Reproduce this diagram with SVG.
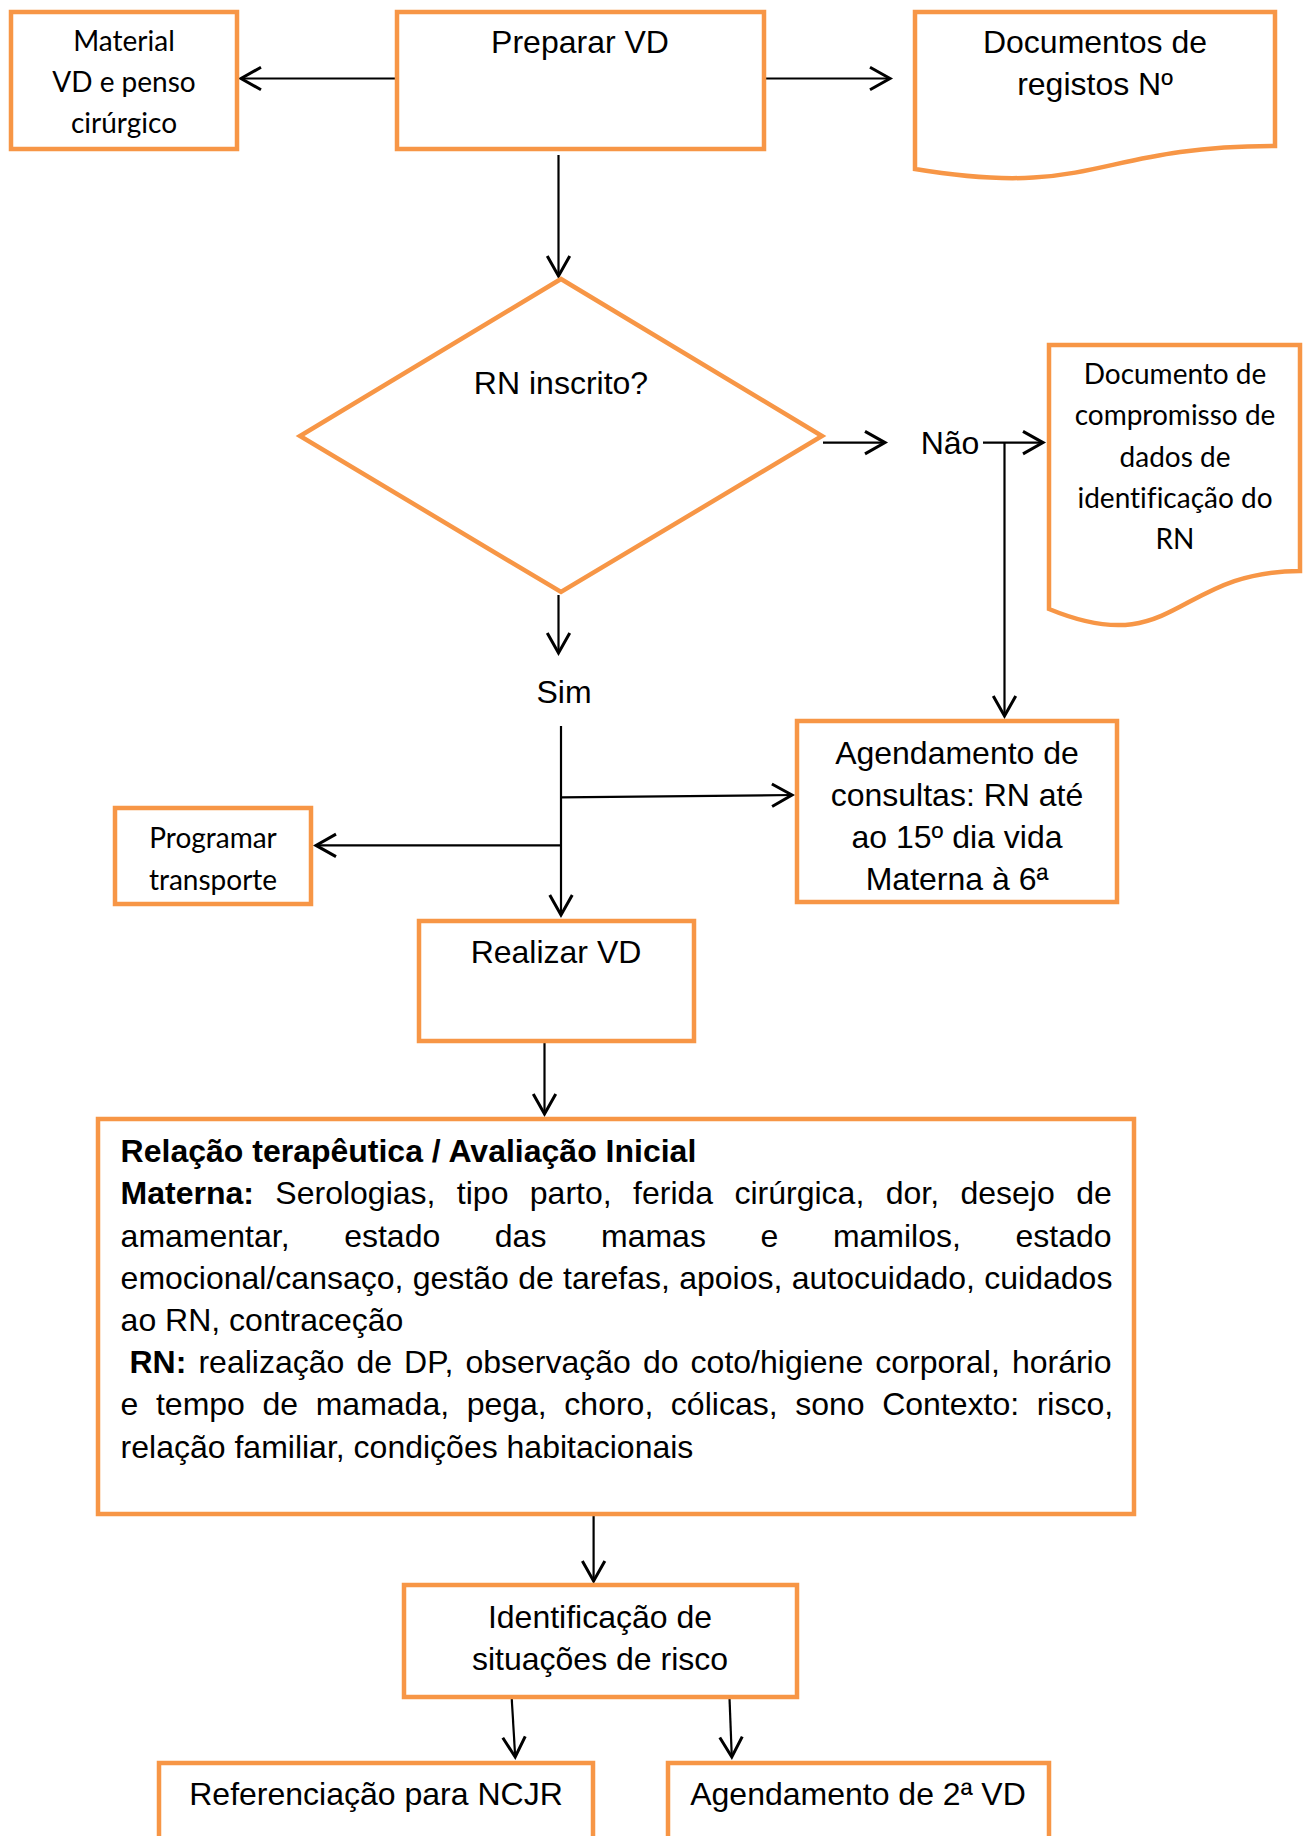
<svg xmlns="http://www.w3.org/2000/svg" width="1309" height="1836" viewBox="0 0 1309 1836">
<style>
.box{fill:#fff;stroke:#F79646;stroke-width:4.5}
.ln{fill:none;stroke:#000;stroke-width:2.2}
.a{font-family:"Liberation Sans",Arial,sans-serif;font-size:32px;fill:#000}
.c{font-family:Lato,"Noto Sans",sans-serif;font-size:28px;fill:#000;font-variant-ligatures:none}
.m{text-anchor:middle}
.b{font-weight:bold}
</style>
<defs>
<marker id="ar" markerUnits="userSpaceOnUse" markerWidth="30" markerHeight="30" viewBox="-20 -12 24 24" refX="0" refY="0" orient="auto">
<path d="M-16,-9 L0,0 L-16,9" fill="none" stroke="#000" stroke-width="2.4"/>
</marker>
</defs>
<rect width="1309" height="1836" fill="#fff"/>
<g id="connectors">
<line class="ln" x1="396" y1="78.5" x2="241" y2="78.5" marker-end="url(#ar)"/>
<line class="ln" x1="766" y1="78.5" x2="890" y2="78.5" marker-end="url(#ar)"/>
<line class="ln" x1="558.5" y1="155" x2="558.5" y2="276" marker-end="url(#ar)"/>
<line class="ln" x1="823" y1="442.6" x2="885" y2="442.6" marker-end="url(#ar)"/>
<line class="ln" x1="983" y1="442.6" x2="1043" y2="442.6" marker-end="url(#ar)"/>
<line class="ln" x1="1004.5" y1="442.6" x2="1004.5" y2="716" marker-end="url(#ar)"/>
<line class="ln" x1="558.5" y1="595" x2="558.5" y2="653" marker-end="url(#ar)"/>
<line class="ln" x1="561" y1="726" x2="561" y2="915" marker-end="url(#ar)"/>
<line class="ln" x1="561" y1="797.4" x2="792" y2="795" marker-end="url(#ar)"/>
<line class="ln" x1="561" y1="845.4" x2="316" y2="845.4" marker-end="url(#ar)"/>
<line class="ln" x1="544.5" y1="1043" x2="544.5" y2="1114" marker-end="url(#ar)"/>
<line class="ln" x1="593.6" y1="1516" x2="593.6" y2="1581" marker-end="url(#ar)"/>
<line class="ln" x1="511.7" y1="1698" x2="515.2" y2="1757" marker-end="url(#ar)"/>
<line class="ln" x1="729.5" y1="1698" x2="731.8" y2="1757" marker-end="url(#ar)"/>
</g>
<g id="material">
<rect class="box" x="11" y="12" width="226" height="137"/>
<text class="c m" x="124" y="51">Material</text>
<text class="c m" x="124" y="92">VD e penso</text>
<text class="c m" x="124" y="133">cirúrgico</text>
</g>
<g id="preparar">
<rect class="box" x="397" y="12" width="367" height="137"/>
<text class="a m" x="580" y="53">Preparar VD</text>
</g>
<g id="documentos">
<path class="box" d="M915,12 H1275 V146 C1095,146 1095,199 915,169 Z"/>
<text class="a m" x="1095" y="53">Documentos de</text>
<text class="a m" x="1095" y="95">registos Nº</text>
</g>
<g id="decisao">
<polygon class="box" points="561,279 822,436 561,592 300,436"/>
<text class="a m" x="561" y="394">RN inscrito?</text>
</g>
<g id="nao">
<text class="a m" x="950" y="454">Não</text>
</g>
<g id="compromisso">
<path class="box" d="M1049,345 H1300 V571 C1175,571 1175,661 1049,609 Z"/>
<text class="c m" x="1175" y="384">Documento de</text>
<text class="c m" x="1175" y="425">compromisso de</text>
<text class="c m" x="1175" y="467">dados de</text>
<text class="c m" x="1175" y="508">identificação do</text>
<text class="c m" x="1175" y="549">RN</text>
</g>
<g id="sim">
<text class="a m" x="564" y="703">Sim</text>
</g>
<g id="agendamento">
<rect class="box" x="797" y="721" width="320" height="181"/>
<text class="a m" x="957" y="764">Agendamento de</text>
<text class="a m" x="957" y="806">consultas: RN até</text>
<text class="a m" x="957" y="848">ao 15º dia vida</text>
<text class="a m" x="957" y="890">Materna à 6ª</text>
</g>
<g id="programar">
<rect class="box" x="115" y="808" width="196" height="96"/>
<text class="c m" x="213" y="848">Programar</text>
<text class="c m" x="213" y="890">transporte</text>
</g>
<g id="realizar">
<rect class="box" x="419" y="921" width="275" height="120"/>
<text class="a m" x="556" y="963">Realizar VD</text>
</g>
<g id="avaliacao">
<rect class="box" x="98" y="1119" width="1036" height="395"/>
<text class="a b" x="120.6" y="1162">Relação terapêutica / Avaliação Inicial</text>
<text class="a" x="120.6" y="1204" word-spacing="12.5"><tspan class="b">Materna:</tspan> Serologias, tipo parto, ferida cirúrgica, dor, desejo de</text>
<text class="a" x="120.6" y="1246.5" word-spacing="45.7">amamentar, estado das mamas e mamilos, estado</text>
<text class="a" x="120.6" y="1288.5" word-spacing="0.45">emocional/cansaço, gestão de tarefas, apoios, autocuidado, cuidados</text>
<text class="a" x="120.6" y="1331">ao RN, contraceção</text>
<text class="a" x="129.5" y="1373" word-spacing="3.2"><tspan class="b">RN:</tspan> realização de DP, observação do coto/higiene corporal, horário</text>
<text class="a" x="120.6" y="1415" word-spacing="8.7">e tempo de mamada, pega, choro, cólicas, sono Contexto: risco,</text>
<text class="a" x="120.6" y="1457.5">relação familiar, condições habitacionais</text>
</g>
<g id="identificacao">
<rect class="box" x="404" y="1585" width="393" height="112"/>
<text class="a m" x="600" y="1628">Identificação de</text>
<text class="a m" x="600" y="1670">situações de risco</text>
</g>
<g id="referenciacao">
<rect class="box" x="159" y="1763" width="434" height="120"/>
<text class="a m" x="376" y="1805">Referenciação para NCJR</text>
</g>
<g id="agendamento2">
<rect class="box" x="668" y="1763" width="381" height="120"/>
<text class="a m" x="858" y="1805">Agendamento de 2ª VD</text>
</g>
</svg>
